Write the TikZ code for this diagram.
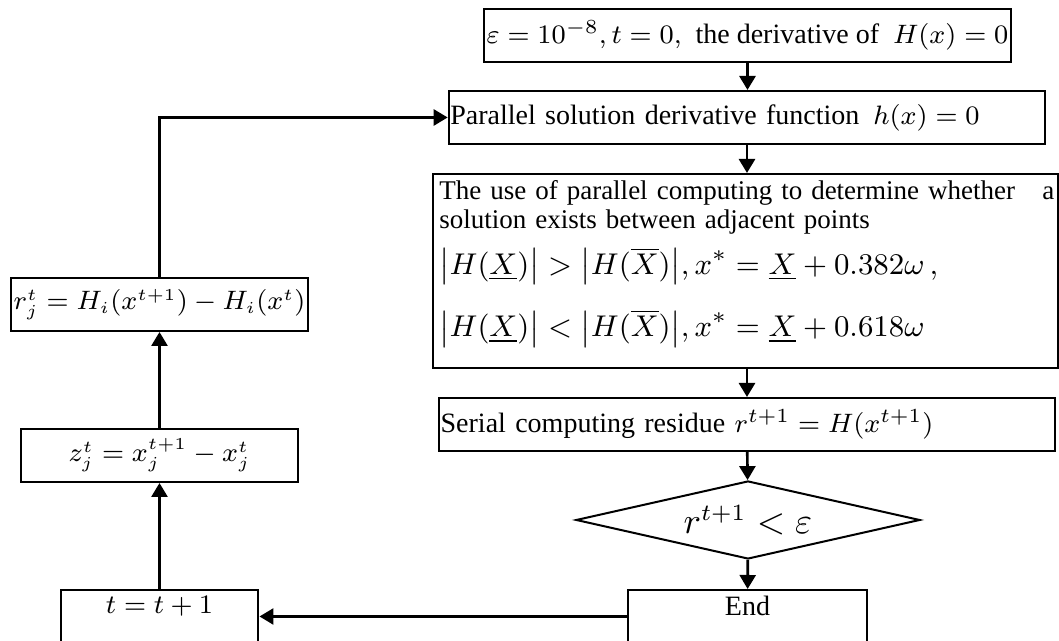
\documentclass[tikz,border=0pt]{standalone}
\usepackage{amsmath}
\usepackage{fontspec}
\setmainfont{Liberation Serif}
\usetikzlibrary{positioning,arrows.meta,shapes.geometric}

\begin{document}
\begin{tikzpicture}[x=0.3pt,y=-0.3pt,>={Triangle[length=4.2pt,width=4.8pt]},
    box/.style={draw,line width=0.6pt,inner sep=0.5pt,minimum height=15.9pt,font=\fontsize{8.4}{10}\selectfont},
    mbox/.style={box,font=\fontsize{7.7}{10}\selectfont},
    flow/.style={->,line width=0.8pt},
    every label/.style={font=\fontsize{8.4}{10}\selectfont,anchor=north,inner sep=2pt}]
  \useasboundingbox (0,0) rectangle (1059,641);
  % main column
  \node[box,minimum width=158.1pt] (init) at (747.5,35.5) {$\varepsilon=10^{-8},t=0,$\enspace the derivative of\enspace $H(x)=0$};
  \node[box,text width=178pt,align=left] (solve) at (747,117.5) {Parallel solution derivative function\enspace $h(x)=0$};
  \node[box,minimum width=187.5pt,minimum height=58.2pt] (check) at (745.5,271) {};
  \node[anchor=north west,text width=184.5pt,align=left,inner sep=2pt,font=\fontsize{8.1}{8.7}\selectfont] (checktext) at (check.north west)
    {\makebox[\linewidth][s]{The use of parallel computing to determine whether\hfill a}\\
     solution exists between adjacent points\\[3pt]
     {\fontsize{9.5}{11}\selectfont$\bigl|H(\underline{X})\bigr|>\bigl|H(\overline{X})\bigr|,x^{*}=\underline{X}+0.382\omega\,,$}\\[6.5pt]
     {\fontsize{9.5}{11}\selectfont$\bigl|H(\underline{X})\bigr|<\bigl|H(\overline{X})\bigr|,x^{*}=\underline{X}+0.618\omega$}};
  \node[box,text width=183.8pt,align=left] (resid) at (747,424.5) {Serial computing residue $r^{t+1}=H(x^{t+1})$};
  \node[draw,diamond,aspect=4.41,line width=0.6pt,minimum width=103.2pt,minimum height=23.4pt,inner sep=0pt,font=\fontsize{10.5}{12}\selectfont] (cond) at (748,520) {$r^{t+1}<\varepsilon$};
  \node[box,minimum width=71.7pt,label={north:End}] (stop) at (747.5,616.5) {};
  % loop column
  \node[box,minimum width=59.4pt,label={north:$t=t+1$}] (incr) at (159.5,616.5) {};
  \node[mbox,minimum width=83.1pt] (zdiff) at (159.5,455.5) {$z_j^t=x_j^{t+1}-x_j^t$};
  \node[mbox,minimum width=89.1pt] (rdiff) at (159.5,304.5) {$r_j^t=H_i(x^{t+1})-H_i(x^t)$};
  % arrows
  \draw[flow] (init.south) -- (init.south |- solve.north);
  \draw[flow] (solve.south) -- (check.north -| solve.south);
  \draw[flow] (check.south -| resid) -- (resid.north);
  \draw[flow] (resid) -- (cond);
  \draw[flow] (cond) -- (stop);
  \draw[flow] (stop) -- (incr);
  \draw[flow] (incr) -- (zdiff);
  \draw[flow] (zdiff) -- (rdiff);
  \draw[flow] (rdiff) |- (solve);
\end{tikzpicture}
\end{document}
